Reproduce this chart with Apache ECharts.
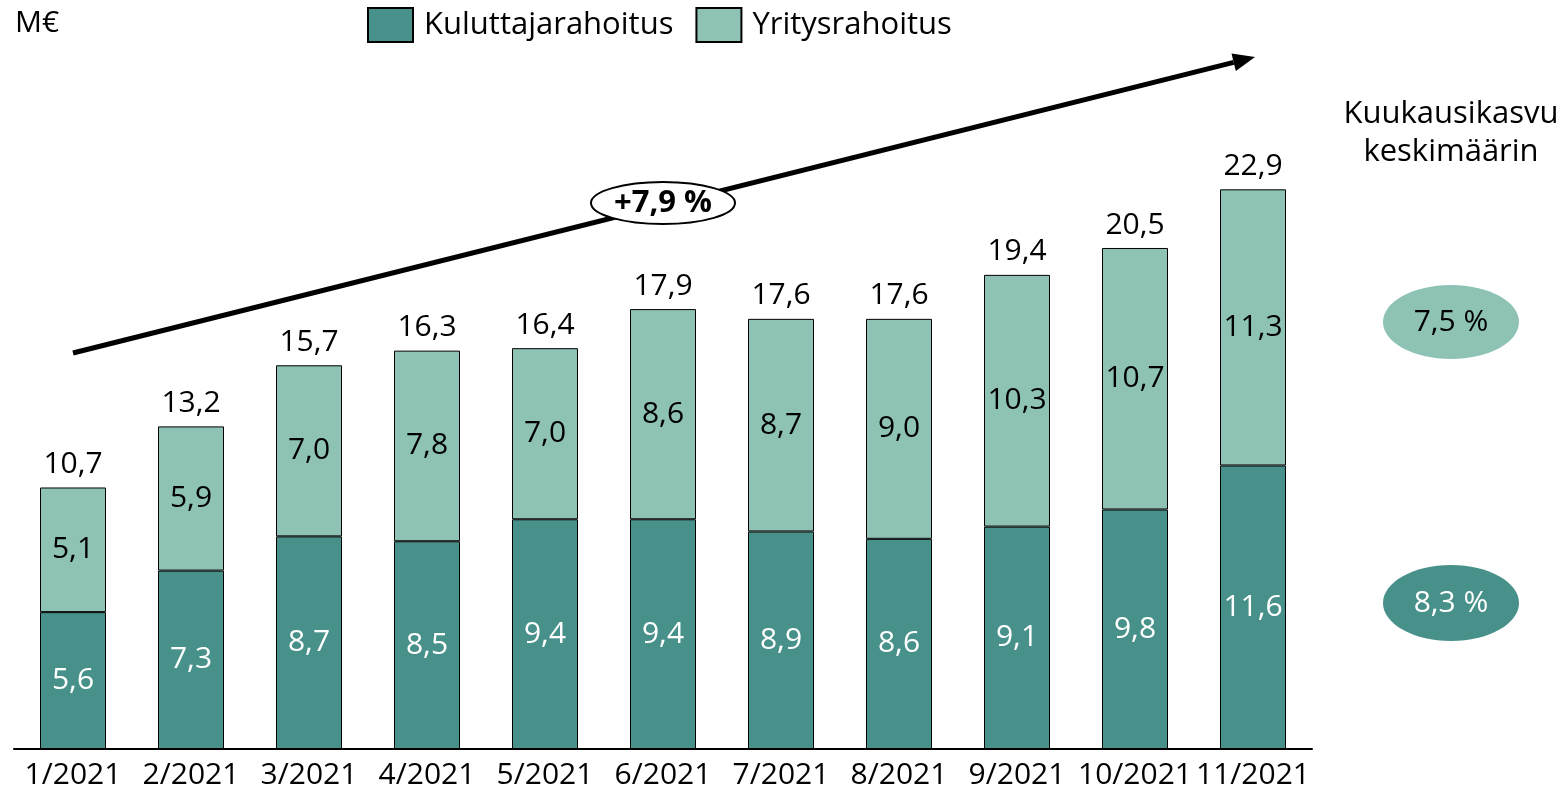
<!DOCTYPE html>
<html>
<head>
<meta charset="utf-8">
<script src="https://cdn.jsdelivr.net/npm/echarts@6/dist/echarts.min.js"></script>
<style>
html,body{margin:0;padding:0;background:#fff}
#main{width:1565px;height:791px}
</style>
</head>
<body>
<div id="main"></div>
<script>
var months=['1/2021','2/2021','3/2021','4/2021','5/2021','6/2021','7/2021','8/2021','9/2021','10/2021','11/2021'];
var kuluttaja=[5.6,7.3,8.7,8.5,9.4,9.4,8.9,8.6,9.1,9.8,11.6];
var yritys=[5.1,5.9,7.0,7.8,7.0,8.6,8.7,9.0,10.3,10.7,11.3];
var totals=[10.7,13.2,15.7,16.3,16.4,17.9,17.6,17.6,19.4,20.5,22.9];
var growthKul='8,3 %', growthYri='7,5 %', growthAll='+7,9 %';

var DARK='#47918a', LIGHT='#8dc2b4', FONT='Open Sans';
function fi(v){return v.toFixed(1).replace('.',',');}

// nuolen päät (pikseleinä)
var a0=[73,353], a1=[1255,57];
var dx=a1[0]-a0[0], dy=a1[1]-a0[1], L=Math.sqrt(dx*dx+dy*dy), ux=dx/L, uy=dy/L;
var hl=22, hw=9, bx=a1[0]-ux*hl, by=a1[1]-uy*hl;

var chart=echarts.init(document.getElementById('main'));
chart.setOption({
	animation:false,
	textStyle:{fontFamily:FONT},
	grid:{left:14,right:253,top:138,bottom:42,containLabel:false},
	legend:{
		left:367,top:7,padding:0,itemWidth:45,itemHeight:34,itemGap:22,
		icon:'rect',
		textStyle:{fontSize:31,color:'#000',fontFamily:FONT,padding:[0,0,0,6]},
		data:['Kuluttajarahoitus','Yritysrahoitus']
	},
	xAxis:{
		type:'category',data:months,
		axisLine:{lineStyle:{color:'#000',width:2}},
		axisTick:{show:false},
		axisLabel:{interval:0,hideOverlap:false,color:'#000',fontSize:30,margin:11,fontFamily:FONT}
	},
	yAxis:{type:'value',min:0,max:25,show:false,splitLine:{show:false}},
	series:[
		{
			name:'Kuluttajarahoitus',type:'bar',stack:'a',barWidth:66,data:kuluttaja,
			itemStyle:{color:DARK,borderColor:'#000',borderWidth:1},
			label:{show:true,position:'inside',color:'#fff',fontSize:30,fontFamily:FONT,formatter:function(p){return fi(p.value);}}
		},
		{
			name:'Yritysrahoitus',type:'bar',stack:'a',barWidth:66,data:yritys,
			itemStyle:{color:LIGHT,borderColor:'#000',borderWidth:1},
			label:{show:true,position:'inside',color:'#000',fontSize:30,fontFamily:FONT,formatter:function(p){return fi(p.value);}}
		},
		{
			// summat pylväiden päällä
			name:'total',type:'bar',stack:'a',barWidth:66,
			data:totals.map(function(){return 0;}),
			itemStyle:{color:'transparent'},
			label:{show:true,position:'top',distance:8,color:'#000',fontSize:30,fontFamily:FONT,
				formatter:function(p){return fi(totals[p.dataIndex]);}}
		}
	],
	graphic:[
		{type:'text',left:15,top:8,style:{text:'M€',fontSize:30,fill:'#000',fontFamily:FONT}},
		{type:'line',shape:{x1:a0[0],y1:a0[1],x2:bx,y2:by},style:{stroke:'#000',lineWidth:5}},
		{type:'polygon',shape:{points:[[a1[0],a1[1]],[bx-uy*hw,by+ux*hw],[bx+uy*hw,by-ux*hw]]},style:{fill:'#000'}},
		{type:'ellipse',shape:{cx:663,cy:203,rx:72,ry:21},style:{fill:'#fff',stroke:'#000',lineWidth:2}},
		{type:'text',x:663,y:203,style:{text:growthAll,fontSize:31,fontWeight:'bold',fill:'#000',align:'center',verticalAlign:'middle',fontFamily:FONT}},
		{type:'text',x:1451,y:133,style:{text:'Kuukausikasvu\nkeskimäärin',fontSize:31,lineHeight:38,fill:'#000',align:'center',verticalAlign:'middle',fontFamily:FONT}},
		{type:'ellipse',shape:{cx:1451,cy:322,rx:68,ry:37},style:{fill:LIGHT}},
		{type:'text',x:1451,y:322,style:{text:growthYri,fontSize:30,fill:'#000',align:'center',verticalAlign:'middle',fontFamily:FONT}},
		{type:'ellipse',shape:{cx:1451,cy:603,rx:68,ry:38},style:{fill:DARK}},
		{type:'text',x:1451,y:603,style:{text:growthKul,fontSize:30,fill:'#fff',align:'center',verticalAlign:'middle',fontFamily:FONT}}
	]
});
</script>
</body>
</html>
